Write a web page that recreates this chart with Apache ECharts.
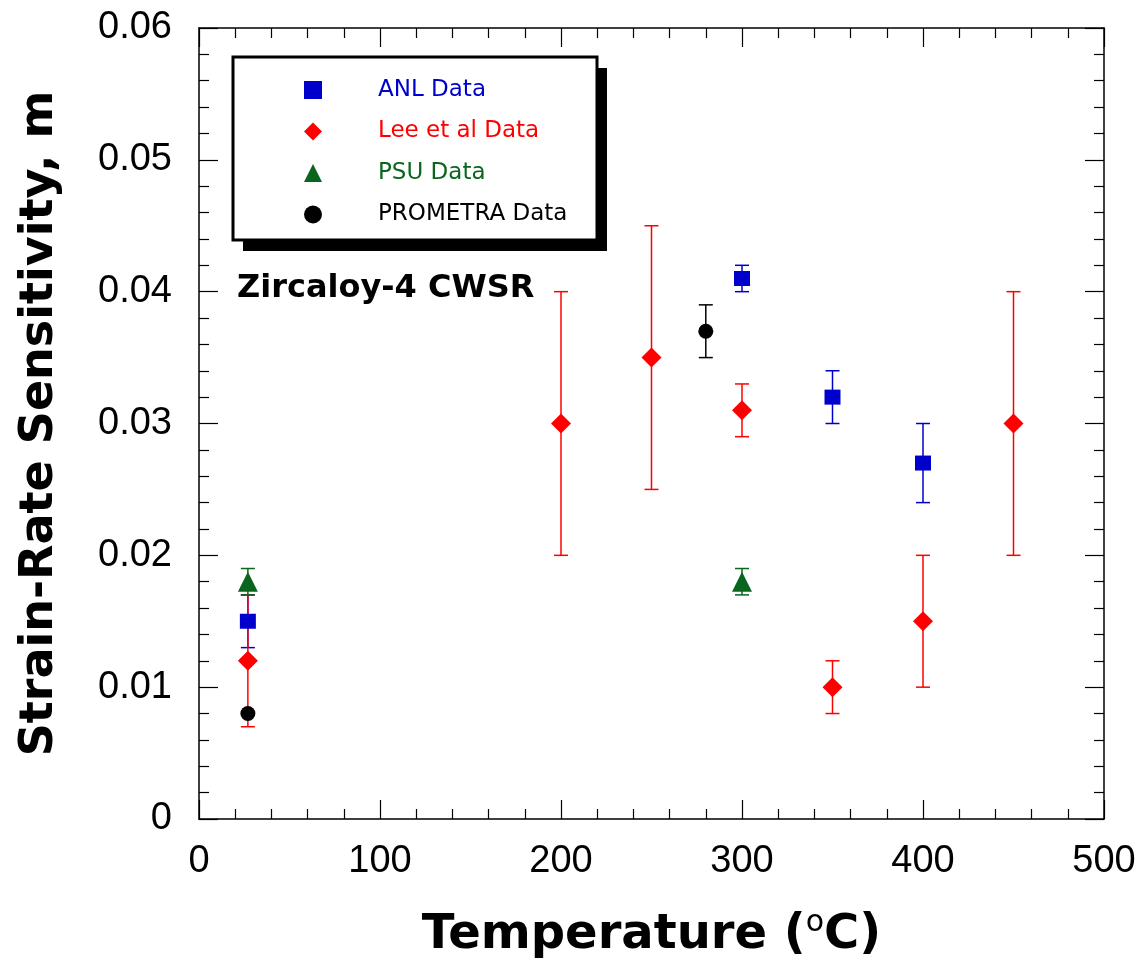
<!DOCTYPE html>
<html><head><meta charset="utf-8">
<script src="https://cdn.jsdelivr.net/npm/echarts@6/dist/echarts.min.js"></script>
<style>html,body{margin:0;padding:0;background:#fff}#c{width:1146px;height:958px}</style>
</head><body><div id="c"></div>
<script>
// ---- data (temperature in °C, strain-rate sensitivity m) ----
const anlT  = [27, 300, 350, 400];
const anlM  = [0.015, 0.041, 0.032, 0.027];
const anlLo = [0.013, 0.040, 0.030, 0.024];
const anlHi = [0.017, 0.042, 0.034, 0.030];

const leeT  = [27, 200, 250, 300, 350, 400, 450];
const leeM  = [0.012, 0.030, 0.035, 0.031, 0.010, 0.015, 0.030];
const leeLo = [0.007, 0.020, 0.025, 0.029, 0.008, 0.010, 0.020];
const leeHi = [0.017, 0.040, 0.045, 0.033, 0.012, 0.020, 0.040];

const psuT  = [27, 300];
const psuM  = [0.018, 0.018];
const psuLo = [0.017, 0.017];
const psuHi = [0.019, 0.019];

const proT  = [27, 280];
const proM  = [0.008, 0.037];
const proLo = [0.008, 0.035];
const proHi = [0.008, 0.039];

const xTickLabels = ['0', '100', '200', '300', '400', '500'];
const yTickLabels = ['0', '0.01', '0.02', '0.03', '0.04', '0.05', '0.06'];

const seriesNames = ['ANL Data', 'Lee et al Data', 'PSU Data', 'PROMETRA Data'];
const colors = ['#0000cc', '#ff0000', '#0a661e', '#000000'];

// ---- chart ----
const chart = echarts.init(document.getElementById('c'), null, {renderer: 'canvas'});

const tickFont = {fontFamily: '"Liberation Sans", Arial, sans-serif', fontSize: 38, color: '#000'};
const lineSt = {color: '#000', width: 1.5};
const tickSt = {color: '#000', width: 1.2};

function mkAxis(pos, min, max, interval, labels, step, margin, extra) {
  return Object.assign({
    type: 'value', position: pos, min: min, max: max, interval: interval,
    axisLine: {show: true, onZero: false, lineStyle: lineSt},
    axisTick: {show: true, inside: true, length: 19, lineStyle: tickSt},
    minorTick: {show: true, splitNumber: 5, length: 10, lineStyle: tickSt},
    splitLine: {show: false},
    axisLabel: labels ? Object.assign({
      margin: margin,
      formatter: function (v) { return labels[Math.round(v / step)]; }
    }, tickFont) : {show: false}
  }, extra || {});
}

function errSeries(name, T, Lo, Hi, color) {
  return {
    type: 'custom', name: name, z: 1, silent: true,
    data: T.map(function (t, i) { return [t, Lo[i], Hi[i]]; }),
    encode: {x: 0, y: [1, 2]},
    renderItem: function (params, api) {
      const x = api.value(0), lo = api.value(1), hi = api.value(2);
      if (lo === hi) return null;
      const p1 = api.coord([x, lo]);
      const p2 = api.coord([x, hi]);
      const w = 7;
      const st = {stroke: color, lineWidth: 1.5};
      return {type: 'group', children: [
        {type: 'line', shape: {x1: p1[0], y1: p1[1], x2: p2[0], y2: p2[1]}, style: st},
        {type: 'line', shape: {x1: p1[0] - w, y1: p1[1], x2: p1[0] + w, y2: p1[1]}, style: st},
        {type: 'line', shape: {x1: p2[0] - w, y1: p2[1], x2: p2[0] + w, y2: p2[1]}, style: st}
      ]};
    }
  };
}

function ptSeries(name, T, M, symbol, size, color) {
  return {
    type: 'scatter', name: name, z: 3,
    symbol: symbol, symbolSize: size,
    itemStyle: {color: color, opacity: 1},
    data: T.map(function (t, i) { return [t, M[i]]; })
  };
}

const titleFont = 'DejaVu Sans';

const option = {
  animation: false,
  backgroundColor: '#fff',
  grid: {left: 199, right: 42, top: 28, bottom: 139, containLabel: false, outerBoundsMode: 'none'},
  xAxis: [
    mkAxis('bottom', 0, 500, 100, xTickLabels, 100, 24, {
      name: '{a|Temperature (}{b|o}{a|C)}',
      nameLocation: 'middle', nameGap: 89,
      nameTextStyle: {rich: {
        a: {fontFamily: titleFont, fontWeight: 'bold', fontSize: 48, lineHeight: 56, color: '#000'},
        b: {fontFamily: titleFont, fontWeight: 'normal', fontSize: 30, lineHeight: 30, verticalAlign: 'top', color: '#000'}
      }}
    }),
    mkAxis('top', 0, 500, 100, null, 100, 0)
  ],
  yAxis: [
    mkAxis('left', 0, 0.06, 0.01, yTickLabels, 0.01, 27, {
      name: 'Strain-Rate Sensitivity, m',
      nameLocation: 'middle', nameGap: 136,
      nameTextStyle: {fontFamily: titleFont, fontWeight: 'bold', fontSize: 46, color: '#000'}
    }),
    mkAxis('right', 0, 0.06, 0.01, null, 0.01, 0)
  ],
  legend: {
    orient: 'vertical', left: 304, top: 78, padding: 0,
    itemWidth: 18, itemHeight: 18, itemGap: 17.5,
    selectedMode: false,
    textStyle: {fontFamily: titleFont, fontSize: 23, lineHeight: 24, padding: [0, 0, 0, 51]},
    data: seriesNames.map(function (n, i) {
      return {name: n, icon: ['rect', 'diamond', 'triangle', 'circle'][i], textStyle: {color: colors[i]}};
    })
  },
  graphic: [
    {type: 'rect', z: 0, silent: true, shape: {x: 243, y: 68, width: 364, height: 183}, style: {fill: '#000'}},
    {type: 'rect', z: 1, silent: true, shape: {x: 233, y: 57, width: 364, height: 183}, style: {fill: '#fff', stroke: '#000', lineWidth: 3}},
    {type: 'text', z: 1, silent: true, x: 237, y: 289,
      style: {text: 'Zircaloy-4 CWSR', fill: '#000', font: 'bold 32px "DejaVu Sans"', verticalAlign: 'middle', align: 'left'}}
  ],
  series: [
    errSeries('ANL err', anlT, anlLo, anlHi, colors[0]),
    errSeries('Lee err', leeT, leeLo, leeHi, colors[1]),
    errSeries('PSU err', psuT, psuLo, psuHi, colors[2]),
    errSeries('PROMETRA err', proT, proLo, proHi, colors[3]),
    ptSeries(seriesNames[0], anlT, anlM, 'rect', [16, 15], colors[0]),
    ptSeries(seriesNames[1], leeT, leeM, 'diamond', [20, 20], colors[1]),
    ptSeries(seriesNames[2], psuT, psuM, 'triangle', [20, 20], colors[2]),
    ptSeries(seriesNames[3], proT, proM, 'circle', 15, colors[3])
  ]
};
chart.setOption(option);
</script>
</body></html>
